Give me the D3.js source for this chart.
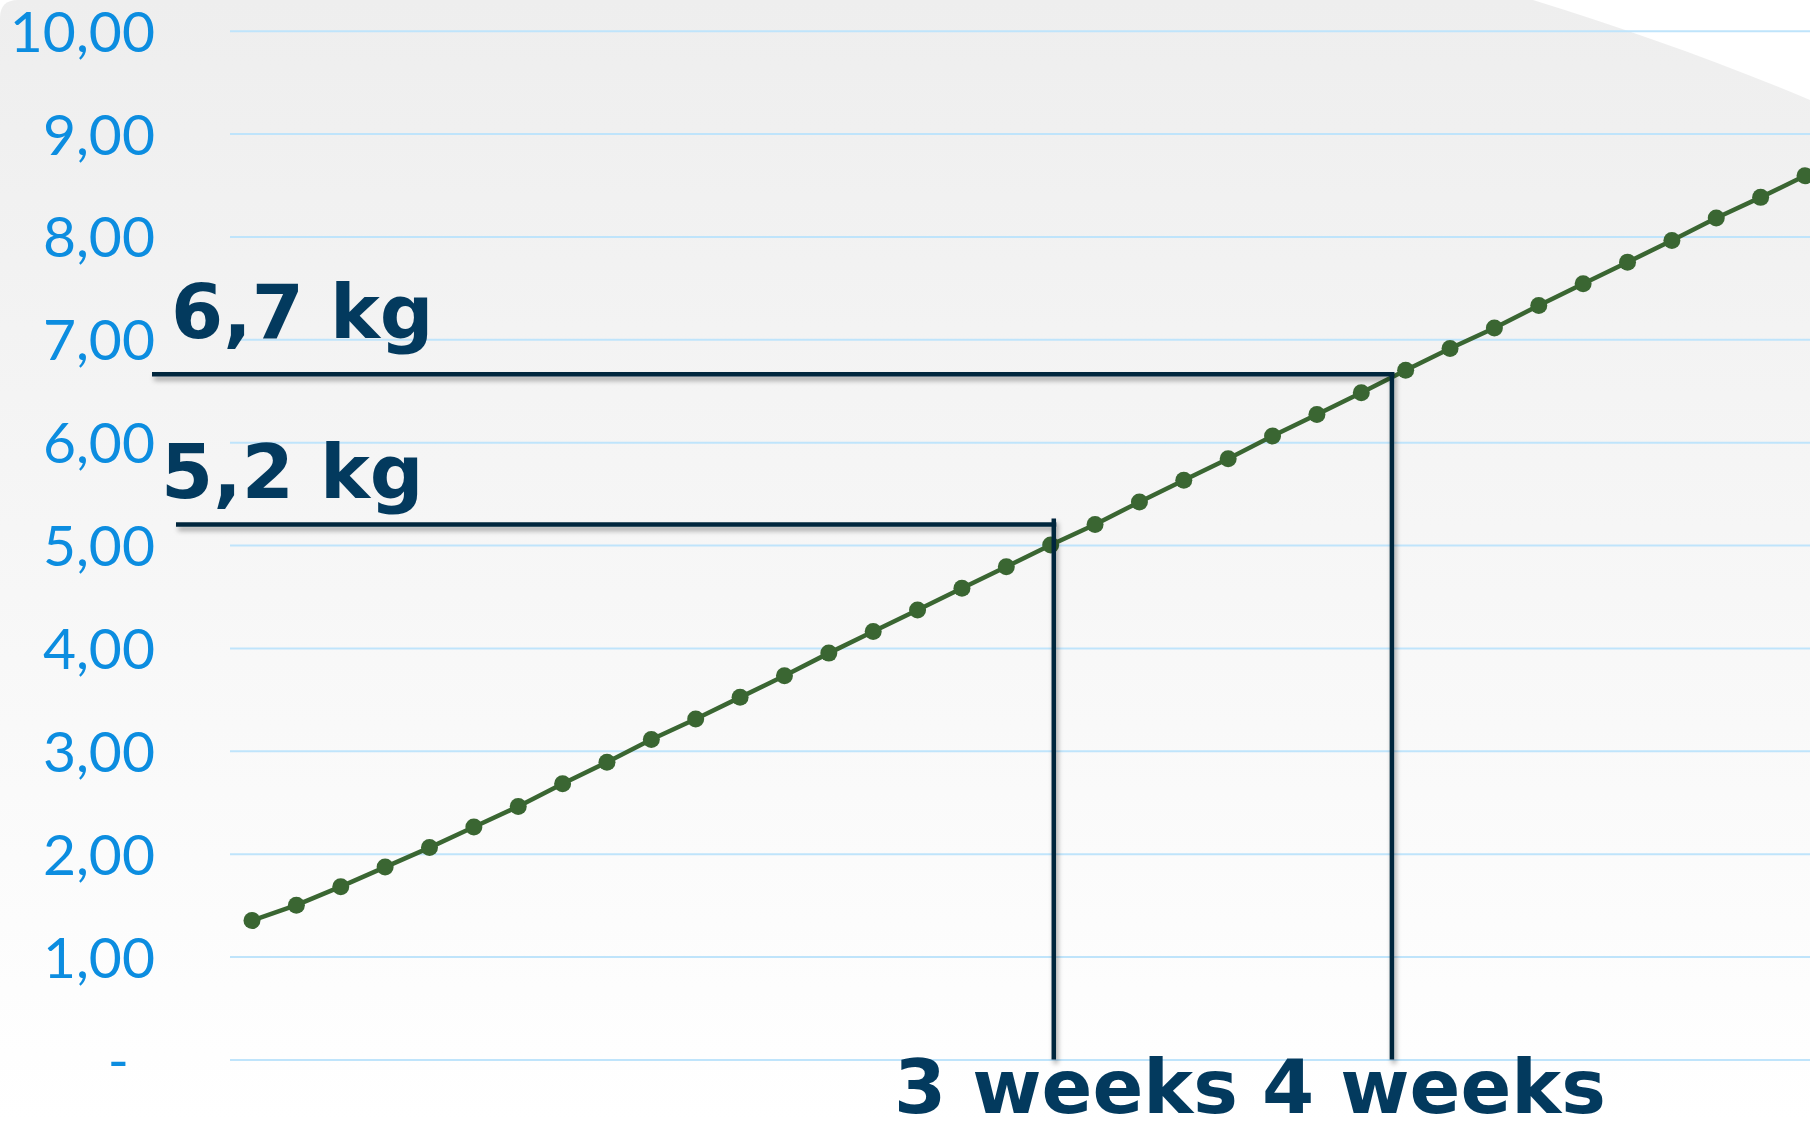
<!DOCTYPE html>
<html>
<head>
<meta charset="utf-8">
<script src="https://cdn.jsdelivr.net/npm/d3@7"></script>
<style>
  html, body { margin: 0; padding: 0; background: #ffffff; }
  svg { display: block; }
</style>
</head>
<body>
<svg id="chart" width="1810" height="1121"></svg>
<script>
// weight (kg) per step
const weights = [1.35, 1.50, 1.68, 1.87, 2.06, 2.26, 2.46, 2.68, 2.89, 3.11,
                 3.31, 3.52, 3.73, 3.95, 4.16, 4.37, 4.58, 4.79, 5.00, 5.20,
                 5.42, 5.63, 5.84, 6.06, 6.27, 6.48, 6.70, 6.91, 7.11, 7.33,
                 7.54, 7.75, 7.96, 8.18, 8.38, 8.59];
const yTicks = [0, 1, 2, 3, 4, 5, 6, 7, 8, 9, 10];

// guide lines: weight level, step where it drops down, and the texts
const guideLevels = [5.2, 6.66];
const guideSteps = [18.07, 25.69];
const guideKg = ['5,2 kg', '6,7 kg'];
const guideWeeks = ['3 weeks', '4 weeks'];

const W = 1810, H = 1121;
let svg = d3.select('#chart');

//背景
let defs = svg.append('defs');
let grad = defs.append('linearGradient')
    .attr('id', 'bg')
    .attr('x1', 0).attr('y1', 0).attr('x2', 0).attr('y2', 1);
grad.append('stop').attr('offset', '0%').attr('stop-color', '#eeeeee');
grad.append('stop').attr('offset', '100%').attr('stop-color', '#ffffff');

let shadow = defs.append('filter')
    .attr('id', 'shadow')
    .attr('x', '-5%').attr('y', '-50%')
    .attr('width', '110%').attr('height', '200%');
shadow.append('feDropShadow')
    .attr('dx', 2).attr('dy', 4)
    .attr('stdDeviation', 2.5)
    .attr('flood-color', '#000')
    .attr('flood-opacity', 0.35);

svg.append('path')
    .attr('d', 'M0,18 Q0,0 18,0 L1533,0 C1620,27 1715,60 1810,100 L1810,1121 L0,1121 Z')
    .attr('fill', 'url(#bg)');

//比例尺
let xScale = d3.scaleLinear().domain([0, weights.length - 1]).range([252, 1805]);
let yScale = d3.scaleLinear().domain([0, 10]).range([1059.5, 30.7]);

let comma = d3.formatLocale({decimal: ',', thousands: '.', grouping: [3], currency: ['', '']});
let fmt = comma.format('.2f');

//y轴与网格线
let yAxis = d3.axisLeft(yScale)
    .tickValues(yTicks)
    .tickSizeInner(-(W - 230))
    .tickSizeOuter(0)
    .tickPadding(75)
    .tickFormat(d => d === 0 ? '-' : fmt(d));

let axisG = svg.append('g')
    .attr('class', 'y-axis')
    .attr('transform', 'translate(230,0)')
    .call(yAxis);
axisG.select('.domain').remove();
axisG.selectAll('.tick line')
    .attr('stroke', '#bfe4fb')
    .attr('stroke-width', 2);
axisG.selectAll('.tick text')
    .attr('fill', '#0c8de0')
    .attr('font-family', 'Lato, "Open Sans", sans-serif')
    .attr('font-size', 57)
    .attr('dy', '0.36em')
    .attr('dx', d => d === 0 ? -26 : 0);

//折线
let line = d3.line()
    .x((d, i) => xScale(i))
    .y(d => yScale(d));

svg.append('path')
    .datum(weights)
    .attr('fill', 'none')
    .attr('stroke', '#3a6632')
    .attr('stroke-width', 4.5)
    .attr('stroke-linejoin', 'round')
    .attr('d', line);

svg.append('g')
    .attr('class', 'points')
    .selectAll('circle')
    .data(weights)
    .enter()
    .append('circle')
    .attr('cx', (d, i) => xScale(i))
    .attr('cy', d => yScale(d))
    .attr('r', 8.5)
    .attr('fill', '#3a6632');

//辅助线
let lineStarts = [176, 152];
let guides = svg.append('g').attr('class', 'guides').attr('filter', 'url(#shadow)');
guideLevels.forEach(function(v, i){
    let gx = xScale(guideSteps[i]);
    let gy = yScale(v);
    guides.append('line')
        .attr('x1', lineStarts[i]).attr('x2', gx + 2.5)
        .attr('y1', gy).attr('y2', gy)
        .attr('stroke', '#06263d')
        .attr('stroke-width', 4.5);
    guides.append('line')
        .attr('x1', gx).attr('x2', gx)
        .attr('y1', i === 0 ? gy - 6 : gy - 2)
        .attr('y2', yScale(0))
        .attr('stroke', '#06263d')
        .attr('stroke-width', 4.5);
});

//文字
let kgPos = [[161, 498], [171, 338]];
svg.append('g')
    .selectAll('text')
    .data(guideKg)
    .enter()
    .append('text')
    .attr('x', (d, i) => kgPos[i][0])
    .attr('y', (d, i) => kgPos[i][1])
    .attr('fill', '#033a5e')
    .attr('font-family', '"DejaVu Sans", Verdana, sans-serif')
    .attr('font-weight', 'bold')
    .attr('font-size', 75)
    .text(d => d);

let weekX = [894, 1262];
svg.append('g')
    .selectAll('text')
    .data(guideWeeks)
    .enter()
    .append('text')
    .attr('x', (d, i) => weekX[i])
    .attr('y', 1113)
    .attr('fill', '#033a5e')
    .attr('font-family', '"DejaVu Sans", Verdana, sans-serif')
    .attr('font-weight', 'bold')
    .attr('font-size', 75)
    .text(d => d);
</script>
</body>
</html>
